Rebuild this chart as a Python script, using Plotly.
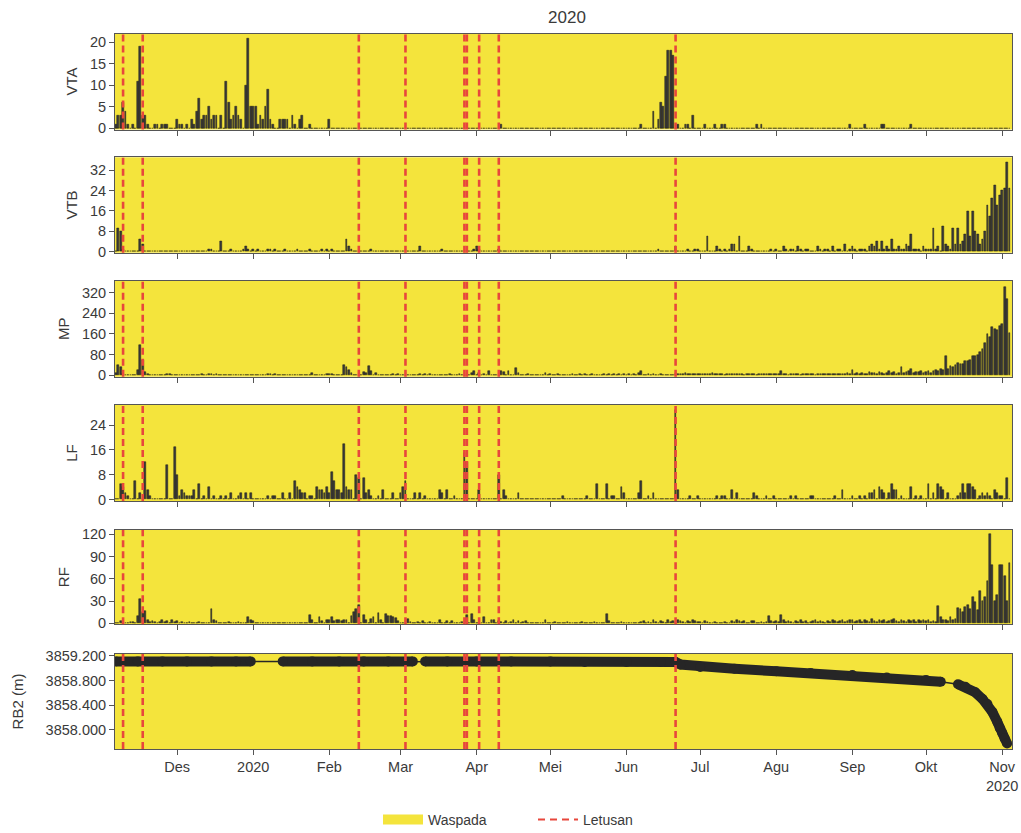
import pandas as pd
import plotly.graph_objects as go

# ---------------- data (daily, 2019-11-06 .. 2020-11-04) ----------------
start_date = "2019-11-06"

vta = [
    1,3,3,6,4, 1,0,1,0,11, 19,3,3,1,0, 0,1,1,0,1, 1,1,0,0,0,
    2,1,1,0,1, 0,2,1,4,7, 2,3,3,5,2, 3,3,0,3,0, 11,6,2,3,5, 3,2,0,10,21, 5,
    5,5,1,3,2, 5,9,2,1,0, 0,2,2,2,2, 0,3,1,0,2, 3,0,0,1,0, 0,0,0,0,0, 0,
    2,0,0,0,0, 0,0,0,0,0, 0,0,0,0,0, 0,0,0,0,0, 0,0,0,0,0, 0,0,0,0,
    0,0,0,0,0, 0,0,0,0,0, 0,0,0,0,0, 0,0,0,0,0, 0,0,0,0,0, 0,0,0,0,0, 0,
    0,0,0,0,0, 0,0,0,0,0, 1,0,0,0,0, 0,0,0,0,0, 0,0,0,0,0, 0,0,0,0,0,
    0,0,0,0,0, 0,0,0,0,0, 0,0,0,0,0, 0,0,0,0,0, 0,0,0,0,0, 0,0,0,0,0, 0,
    0,0,0,0,0, 0,1,0,0,0, 0,4,0,2,6, 5,12,18,18,17, 0,1,0,0,1, 1,0,3,0,0,
    0,0,1,0,0, 0,1,0,0,1, 1,0,0,0,0, 0,0,0,0,0, 0,0,0,1,0, 1,0,0,0,0, 0,
    0,0,0,0,0, 0,0,0,0,0, 0,0,0,0,0, 0,0,0,0,0, 0,0,0,0,0, 0,0,0,0,0, 1,
    0,0,0,0,0, 1,0,0,0,0, 0,0,1,1,0, 0,0,0,0,0, 0,0,0,0,1, 0,0,0,0,0,
    0,0,0,0,0, 0,0,0,0,0, 0,0,0,0,0, 0,0,0,0,0, 0,0,0,0,0, 0,0,0,0,0, 0,
    0,0,0,0,
]

vtb = [
    0,9,8,1,0, 0,0,0,0,0, 5,3,0,0,0, 0,0,0,0,0, 0,0,0,0,0,
    0,0,0,0,0, 0,0,0,0,0, 0,0,0,1,1, 0,0,0,4,0, 0,0,1,0,0, 0,0,1,2,1, 0,
    1,0,1,0,0, 0,1,1,0,1, 0,0,0,1,0, 0,0,0,1,0, 0,0,0,1,0, 0,0,0,1,0, 1,
    0,1,0,0,0, 0,0,5,2,1, 0,0,0,0,0, 0,0,1,0,0, 0,0,0,0,0, 0,0,0,0,
    0,0,0,0,0, 0,0,0,2,0, 0,0,0,0,0, 0,0,1,0,0, 0,0,0,0,0, 0,0,0,0,0, 1,
    2,1,0,0,0, 0,0,0,0,1, 0,0,0,0,0, 0,0,0,0,0, 0,0,0,0,0, 0,0,0,0,0,
    0,0,0,0,0, 0,0,0,0,0, 0,0,0,0,0, 0,0,0,0,0, 0,0,0,0,0, 0,0,0,0,0, 0,
    0,0,0,0,0, 0,0,0,0,0, 0,0,0,1,0, 0,0,0,0,0, 2,0,0,0,0, 1,0,0,1,1,
    0,0,0,6,0, 0,0,2,1,0, 1,0,1,3,3, 0,6,0,0,0, 2,1,0,0,0, 0,0,0,0,1, 0,
    1,0,0,2,1, 0,1,1,0,2, 1,0,1,1,0, 0,0,2,1,0, 1,1,0,2,0, 1,1,0,3,0, 1,
    2,1,0,1,1, 1,0,2,3,2, 4,1,4,1,2, 1,5,1,1,2, 1,1,3,2,7, 1,1,1,0,2,
    1,1,1,9,1, 2,0,10,3,2, 1,9,3,9,3, 4,7,16,6,16, 8,7,3,5,8, 18,14,21,26,18, 22,
    24,25,35,25,
]

mp = [
    8,41,30,5,0, 0,0,0,0,19, 116,60,12,5,0, 0,0,0,0,0, 0,3,3,0,0,
    0,0,0,0,0, 0,0,0,0,0, 3,0,0,3,3, 0,3,2,0,0, 0,0,0,0,0, 0,0,0,0,0, 0,
    0,0,0,0,0, 0,5,3,0,5, 0,0,0,0,0, 0,0,0,0,0, 0,0,0,0,8, 0,0,0,0,0, 5,
    5,3,0,0,0, 0,40,30,20,10, 0,0,0,0,12, 10,35,15,0,10, 0,0,0,0,0, 0,5,0,5,
    0,0,0,0,0, 0,0,0,3,0, 3,0,3,0,0, 0,0,0,0,0, 3,0,0,0,3, 0,0,0,0,10, 15,
    0,10,0,5,0, 15,0,0,0,0, 15,12,0,15,0, 0,26,10,0,0, 0,3,0,0,0, 0,0,0,10,0,
    3,0,0,5,0, 0,2,0,0,4, 0,0,3,0,5, 0,0,3,0,0, 2,0,6,0,4, 0,3,0,5,0, 4,
    0,3,0,5,0, 8,17,0,0,3, 0,5,0,0,3, 0,0,2,0,0, 5,3,6,4,8, 3,5,4,3,6,
    3,5,4,6,3, 8,5,4,3,5, 2,4,6,3,5, 4,3,5,2,3, 4,6,3,2,5, 4,3,5,4,6, 3,
    4,5,18,3,5, 2,6,4,3,5, 2,4,6,3,5, 4,2,6,3,5, 4,3,6,4,5, 3,6,4,5,7, 4,
    20,5,8,3,10, 6,5,12,8,10, 6,12,8,5,10, 15,8,12,6,10, 30,8,12,15,23, 10,14,12,15,10,
    12,15,10,18,20, 15,22,20,75,25, 36,30,40,49,45, 45,56,55,60,73, 75,80,88,100,125, 160,146,185,180,175, 190,
    200,340,295,165,
]

lf = [
    0,0,5,4,2, 1,0,0,6,0, 2,0,12,3,1, 0,0,0,0,0, 0,11,0,0,17,
    8,1,3,2,1, 1,1,3,0,5, 0,1,0,4,0, 1,0,0,1,0, 1,0,2,0,0, 1,2,0,2,0, 2,
    0,0,0,0,0, 0,1,0,1,1, 0,0,2,0,0, 2,0,6,4,3, 2,2,0,1,1, 0,4,3,3,2, 4,
    2,9,6,3,3, 2,18,4,3,3, 0,8,7,0,7, 2,3,1,0,0, 1,0,3,0,0, 0,2,0,0,
    2,4,6,0,0, 0,2,0,2,0, 1,0,0,0,0, 0,3,2,0,3, 0,0,1,0,0, 0,15,12,0,0, 0,
    0,3,0,0,0, 0,0,0,0,8, 0,3,1,0,0, 0,0,2,0,0, 0,0,0,0,0, 0,0,0,0,0,
    0,0,0,0,0, 1,0,0,0,0, 0,0,0,0,0, 1,0,0,0,5, 0,0,0,5,0, 1,1,0,0,4, 2,
    0,0,0,0,0, 2,6,0,0,1, 0,2,0,0,0, 0,0,0,0,0, 29,3,0,0,0, 0,1,0,0,1,
    0,0,0,0,0, 0,0,1,0,1, 1,0,0,3,0, 2,0,0,0,0, 0,0,2,1,0, 0,0,1,0,0, 1,
    0,0,0,0,0, 0,1,0,1,0, 0,0,0,0,1, 1,0,0,0,0, 0,0,0,0,1, 0,0,3,0,0, 0,
    1,0,0,1,0, 1,0,2,2,3, 0,4,3,2,0, 2,5,3,3,0, 1,0,0,0,4, 0,1,0,1,0,
    0,5,0,2,0, 5,4,3,0,2, 0,0,0,1,2, 5,2,5,5,4, 3,0,1,2,1, 2,1,0,3,2, 1,
    1,0,7,0,
]

rf = [
    0,0,3,0,0, 0,2,2,0,10, 33,15,16,5,2, 3,2,0,2,5, 2,3,0,4,2,
    3,0,2,1,0, 2,1,0,1,2, 0,0,0,0,19, 5,3,0,0,0, 1,2,0,1,0, 2,0,0,0,9, 5,
    3,1,0,1,0, 0,1,0,0,0, 1,0,0,0,1, 0,0,1,0,0, 0,1,0,11,4, 0,1,9,3,0, 4,
    4,8,3,5,4, 3,4,5,0,10, 15,20,25,0,11, 5,0,6,8,0, 14,5,0,12,10, 10,8,7,3,
    0,0,0,6,2, 0,1,2,0,3, 1,0,2,0,0, 0,4,0,0,3, 0,3,0,0,0, 2,0,11,0,13, 4,
    0,0,0,8,0, 0,5,4,0,3, 2,0,3,0,2, 4,0,3,0,2, 3,0,0,0,0, 0,0,0,4,0,
    1,0,2,0,0, 1,0,2,0,0, 1,0,0,2,0, 1,0,0,2,0, 1,0,0,12,3, 0,1,0,0,2, 0,
    0,0,0,1,0, 0,2,3,1,2, 0,4,2,0,3, 2,0,5,2,3, 2,4,3,2,0, 3,2,4,3,2,
    2,0,3,2,0, 1,2,0,0,1, 2,0,0,3,2, 4,3,2,3,0, 0,3,3,0,1, 2,0,2,10,3, 2,
    3,2,11,4,2, 3,2,0,3,2, 4,2,3,0,2, 3,4,2,3,2, 0,3,2,4,3, 2,3,4,2,3, 5,
    5,2,3,4,2, 5,3,2,6,3, 2,4,3,5,2, 3,4,6,3,2, 4,3,2,5,3, 4,2,5,3,4,
    3,4,2,3,2, 23,8,4,5,3, 8,4,6,21,19, 15,22,25,20,36, 29,18,44,30,35, 57,120,79,30,38, 78,
    78,64,30,82,
]

# RB2 EDM distance (m); None = no measurement (gap)
rb2_dates = [
    "2019-11-06", "2019-11-15", "2019-11-25", "2019-12-05", "2019-12-15", "2019-12-25",
    "2019-12-31", "2020-01-06", "2020-01-13", "2020-01-25", "2020-02-05", "2020-02-15",
    "2020-02-25", "2020-03-06", "2020-03-08", "2020-03-11", "2020-03-20", "2020-04-01",
    "2020-04-15", "2020-05-01", "2020-05-15", "2020-06-01", "2020-06-15", "2020-06-21",
    "2020-06-23", "2020-07-01", "2020-07-15", "2020-08-01", "2020-08-15", "2020-09-01",
    "2020-09-15", "2020-10-01", "2020-10-07", "2020-10-10", "2020-10-14", "2020-10-17",
    "2020-10-21", "2020-10-24", "2020-10-26", "2020-10-28", "2020-10-30", "2020-10-31",
    "2020-11-01", "2020-11-02", "2020-11-03",
]
rb2_values = [
    3859.11, 3859.11, 3859.11, 3859.11, 3859.11, 3859.11,
    3859.11, None, 3859.11, 3859.11, 3859.11, 3859.11,
    3859.11, 3859.11, None, 3859.11, 3859.11, 3859.11,
    3859.11, 3859.11, 3859.10, 3859.10, 3859.10, 3859.10,
    3859.06, 3859.02, 3858.99, 3858.95, 3858.92, 3858.89,
    3858.85, 3858.81, 3858.78, None, 3858.74, 3858.70,
    3858.61, 3858.50, 3858.42, 3858.29, 3858.13, 3858.03,
    3857.95, 3857.86, 3857.78,
]

eruption_dates = ["2019-11-09", "2019-11-17", "2020-02-13", "2020-03-03",
                  "2020-03-27", "2020-03-28", "2020-04-02", "2020-04-10", "2020-06-21"]

month_ticks = ["2019-12-01", "2020-01-01", "2020-02-01", "2020-03-01", "2020-04-01",
               "2020-05-01", "2020-06-01", "2020-07-01", "2020-08-01", "2020-09-01",
               "2020-10-01", "2020-11-01"]
month_labels = ["Des", "2020", "Feb", "Mar", "Apr", "Mei", "Jun", "Jul", "Agu",
                "Sep", "Okt", "Nov<br>2020"]

panel_names = ["VTA", "VTB", "MP", "LF", "RF", "RB2 (m)"]

# ---------------- styling ----------------
YELLOW = "#F4E43C"
RED = "#E8473C"
BAR = "#3a3a3a"
FRAME = "#555555"
TXT = "#3a3a3a"
FONT = "Liberation Sans, Arial, sans-serif"

W, H = 1021, 833
ML, MR, MT, MB = 115, 9, 33, 84
plot_h = H - MT - MB
plot_w = W - ML - MR
# pixel boxes (top, bottom) of each panel
boxes = [(33.5, 129.5), (157.3, 252.7), (281, 376.7), (405, 501), (530, 624.3), (654, 749)]
yranges = [[-0.25, 22.05], [-0.4, 37], [-6, 365], [-0.5, 30.5], [-1.3, 125.8], [3857.69, 3859.23]]
ytickvals = [[0, 5, 10, 15, 20], [0, 8, 16, 24, 32], [0, 80, 160, 240, 320],
             [0, 8, 16, 24], [0, 30, 60, 90, 120], [3858.0, 3858.4, 3858.8, 3859.2]]
title_standoff = [8, 8, 8, 8, 8, 18]

series = [vta, vtb, mp, lf, rf]
for s in series:
    if len(s) != 365:
        raise ValueError("length %d" % len(s))
dates = pd.date_range(start_date, periods=365, freq="D")

fig = go.Figure()
day_ms = 86400000

for i, vals in enumerate(series):
    ax = "" if i == 0 else str(i + 1)
    fig.add_trace(go.Bar(
        x=dates, y=vals, xaxis="x" + ax, yaxis="y" + ax,
        width=day_ms * 0.72,
        marker=dict(color=BAR, line=dict(color="#1c1c1c", width=0.5)),
        showlegend=False, hoverinfo="x+y",
    ))

# RB2: thin connector across gaps, then thick band of measurements
fig.add_trace(go.Scatter(
    x=rb2_dates, y=rb2_values, xaxis="x6", yaxis="y6", mode="lines",
    connectgaps=True, line=dict(color="#262626", width=1.5),
    showlegend=False, hoverinfo="skip",
))
fig.add_trace(go.Scatter(
    x=rb2_dates, y=rb2_values, xaxis="x6", yaxis="y6", mode="lines+markers",
    connectgaps=False, line=dict(color="#262626", width=10),
    marker=dict(color="#262626", size=10),
    showlegend=False,
))

# legend entries
fig.add_trace(go.Scatter(x=[None], y=[None], mode="lines", name="Waspada",
                         line=dict(color=YELLOW, width=14)))
fig.add_trace(go.Scatter(x=[None], y=[None], mode="lines", name="Letusan",
                         line=dict(color=RED, width=2, dash="7px,5px")))

shapes = []
for i in range(6):
    ax = "" if i == 0 else str(i + 1)
    for d in eruption_dates:
        shapes.append(dict(type="line", xref="x" + ax, yref="y" + ax + " domain",
                           x0=d, x1=d, y0=0, y1=1, layer="above",
                           line=dict(color=RED, width=2.6, dash="7px,4px")))

layout = dict(
    width=W, height=H,
    margin=dict(l=ML, r=MR, t=MT, b=MB, autoexpand=False),
    paper_bgcolor="white", plot_bgcolor=YELLOW,
    font=dict(family=FONT, size=14, color=TXT),
    title=dict(text="2020", x=567 / W, xanchor="center",
               y=1 - 17 / H, yanchor="middle", yref="container",
               font=dict(size=17, color=TXT), automargin=False),
    bargap=0, barmode="overlay",
    shapes=shapes,
    showlegend=True,
    legend=dict(orientation="h", x=(378 - ML) / plot_w, xanchor="left",
                y=(H - MB - 820) / plot_h, yanchor="middle",
                font=dict(size=14, color=TXT), bgcolor="rgba(0,0,0,0)",
                itemwidth=40, entrywidth=100, entrywidthmode="pixels"),
)

for i in range(6):
    ax = "" if i == 0 else str(i + 1)
    top, bot = boxes[i]
    dom = [(H - MB - bot) / plot_h, (H - MB - top) / plot_h]
    layout["xaxis" + ax] = dict(
        domain=[0, 1], anchor="y" + ax, type="date", automargin=False,
        range=["2019-11-05 17:00", "2020-11-05 00:00"],
        tickmode="array", tickvals=month_ticks, ticktext=month_labels,
        showticklabels=(i == 5), ticks="outside", ticklen=5, tickcolor=FRAME,
        showgrid=False, zeroline=False,
        showline=True, mirror=True, linecolor=FRAME, linewidth=1,
        tickfont=dict(size=14.5, color=TXT),
    )
    ydict = dict(
        domain=dom, anchor="x" + ax, range=yranges[i], automargin=False,
        tickmode="array", tickvals=ytickvals[i],
        ticks="outside", ticklen=5, tickcolor=FRAME,
        showgrid=False, zeroline=False,
        showline=True, mirror=True, linecolor=FRAME, linewidth=1,
        tickfont=dict(size=14.5, color=TXT),
        title=dict(text=panel_names[i], font=dict(size=15, color=TXT),
                   standoff=title_standoff[i]),
    )
    if i == 5:
        ydict["tickformat"] = ".3f"
    layout["yaxis" + ax] = ydict

fig.update_layout(**layout)
fig.write_html(
    "out.html",
    config={"displayModeBar": False},
    post_script="document.body.style.margin='0px';document.body.style.overflow='hidden';",
)
